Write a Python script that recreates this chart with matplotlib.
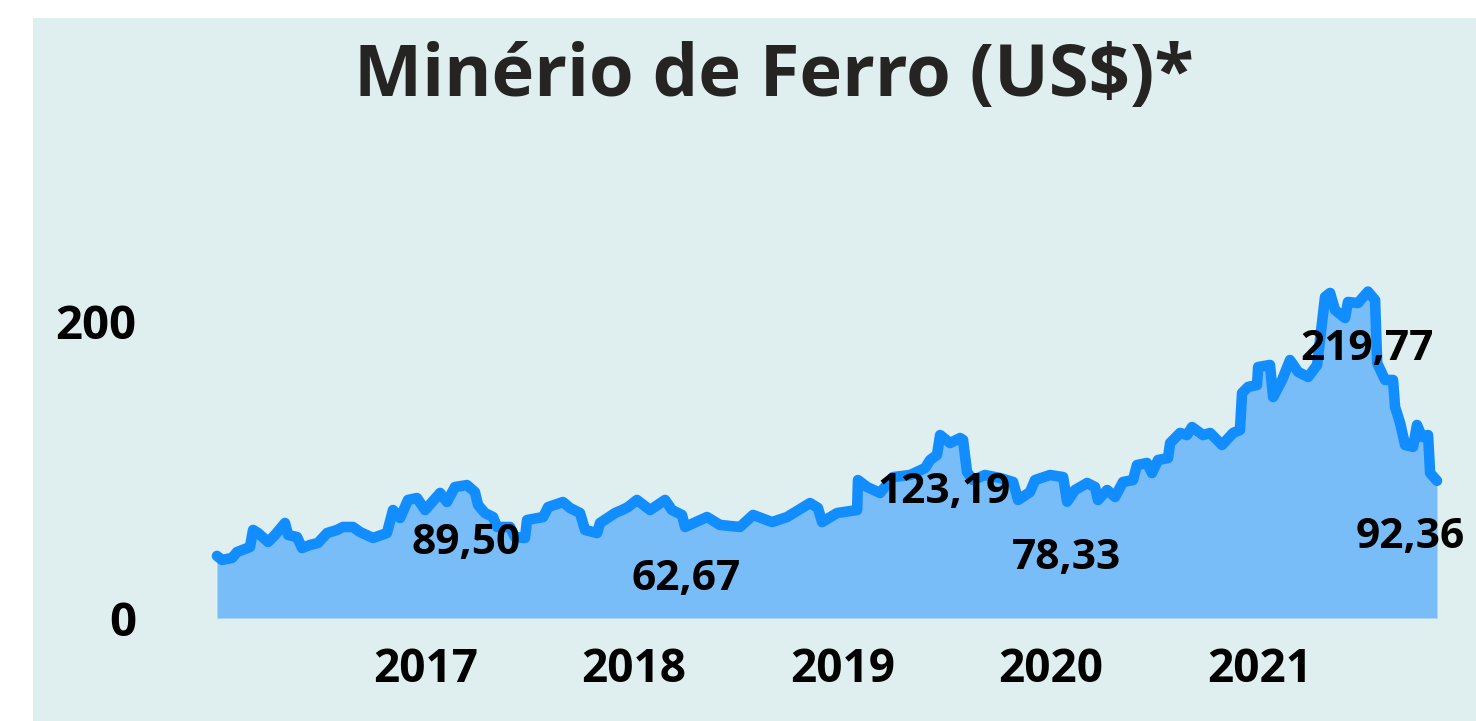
import matplotlib
matplotlib.use("Agg")
import matplotlib.pyplot as plt
from matplotlib.patches import Rectangle

# Série do minério de ferro (anos decimais, US$)
anos = [2016.000, 2016.024, 2016.072, 2016.096, 2016.158, 2016.173, 2016.197, 2016.245,
        2016.278, 2016.326, 2016.341, 2016.384, 2016.408, 2016.446, 2016.484, 2016.528,
        2016.576, 2016.604, 2016.652, 2016.686, 2016.748, 2016.815, 2016.844, 2016.878,
        2016.916, 2016.959, 2016.998, 2017.070, 2017.103, 2017.141, 2017.199, 2017.237,
        2017.252, 2017.285, 2017.324, 2017.343, 2017.405, 2017.429, 2017.477, 2017.487,
        2017.564, 2017.588, 2017.659, 2017.693, 2017.741, 2017.765, 2017.823, 2017.837,
        2017.909, 2017.942, 2017.971, 2018.014, 2018.077, 2018.149, 2018.182, 2018.230,
        2018.245, 2018.350, 2018.412, 2018.508, 2018.571, 2018.662, 2018.734, 2018.844,
        2018.882, 2018.902, 2018.974, 2019.070, 2019.074, 2019.118, 2019.180, 2019.242,
        2019.324, 2019.396, 2019.420, 2019.453, 2019.468, 2019.516, 2019.564, 2019.578,
        2019.597, 2019.626, 2019.683, 2019.755, 2019.818, 2019.842, 2019.899, 2019.923,
        2019.995, 2020.058, 2020.077, 2020.115, 2020.173, 2020.211, 2020.225, 2020.269,
        2020.307, 2020.345, 2020.393, 2020.412, 2020.460, 2020.484, 2020.513, 2020.561,
        2020.571, 2020.619, 2020.652, 2020.676, 2020.729, 2020.763, 2020.820, 2020.873,
        2020.906, 2020.916, 2020.945, 2020.988, 2020.993, 2021.050, 2021.065, 2021.108,
        2021.146, 2021.185, 2021.233, 2021.276, 2021.314, 2021.338, 2021.362, 2021.410,
        2021.424, 2021.472, 2021.520, 2021.554, 2021.564, 2021.602, 2021.640, 2021.650,
        2021.674, 2021.698, 2021.736, 2021.755, 2021.779, 2021.808, 2021.818, 2021.851]
precos = [41.8, 39.1, 40.4, 44.4, 47.8, 59.3, 57.2, 51.2,
          55.9, 64.0, 55.9, 54.5, 47.1, 49.2, 50.5, 57.2,
          59.3, 61.3, 61.3, 57.9, 53.9, 57.2, 72.7, 67.3,
          79.5, 80.8, 72.7, 84.2, 78.1, 88.2, 89.5, 84.8,
          76.1, 70.7, 68.0, 61.3, 61.3, 54.5, 53.9, 66.0,
          68.0, 74.7, 78.1, 74.1, 70.7, 59.3, 57.2, 64.0,
          70.7, 72.7, 74.7, 79.5, 72.7, 79.5, 72.7, 69.4,
          61.3, 68.0, 62.7, 61.3, 69.4, 64.6, 68.0, 77.4,
          74.1, 64.6, 70.7, 72.7, 92.9, 88.2, 84.2, 94.9,
          96.3, 101.0, 106.4, 109.8, 123.2, 117.8, 121.2, 119.9,
          98.3, 92.9, 96.3, 94.3, 91.6, 79.5, 84.8, 92.9,
          96.3, 94.9, 78.3, 86.2, 90.9, 88.2, 79.5, 86.2,
          81.5, 91.6, 92.9, 103.0, 104.4, 97.6, 106.4, 107.7,
          117.8, 124.6, 123.2, 128.6, 123.2, 124.6, 116.5, 124.6,
          126.6, 151.5, 155.6, 156.9, 169.0, 170.4, 148.8, 160.3,
          173.7, 165.7, 162.3, 170.4, 216.2, 218.9, 207.4, 202.0,
          212.8, 212.1, 219.8, 214.1, 171.7, 160.3, 160.3, 142.1,
          131.3, 116.5, 115.2, 130.0, 121.9, 123.2, 97.6, 92.4]

# Rótulos de dados (texto) e onde ficam no gráfico
rotulos = ["89,50", "62,67", "123,19", "78,33", "219,77", "92,36"]
rotulos_x = [2017.194, 2018.249, 2019.487, 2020.072, 2021.516, 2021.722]
rotulos_y = [50.5, 25.6, 84.8, 40.4, 180.5, 53.9]

anos_ticks = [2017, 2018, 2019, 2020, 2021]
y_ticks = [0, 200]

FONTE = ["Open Sans", "DejaVu Sans"]
FUNDO = "#DFEEEE"

W, H = 1476, 721
fig = plt.figure(figsize=(W / 100, H / 100), dpi=100, facecolor="white")

# painel de fundo (cartão)
fig.patches.append(Rectangle((33 / W, 0), 1 - 33 / W, 1 - 18 / H,
                             transform=fig.transFigure, facecolor=FUNDO,
                             edgecolor="none", zorder=-5))

# eixos posicionados no mesmo lugar do original
px_por_unidade = 1.485
y_top = 250
ax = fig.add_axes([217 / W, (H - 618) / H, (1437 - 217) / W, y_top * px_por_unidade / H])
ax.set_facecolor("none")
ax.set_zorder(2)

ax.fill_between(anos, precos, 0, color="#78BDF7", linewidth=0, zorder=1)
ax.plot(anos, precos, color="#118DFF", linewidth=7.6, solid_capstyle="round",
        solid_joinstyle="round", zorder=2, clip_on=False)

for txt, lx, ly in zip(rotulos, rotulos_x, rotulos_y):
    ax.text(lx, ly, txt, ha="center", va="center", fontsize=30.5, fontweight="bold",
            family=FONTE, color="black", zorder=3)

ax.set_xlim(anos[0], anos[-1])
ax.set_ylim(0, y_top)
ax.set_xticks(anos_ticks)
ax.set_xticklabels([str(a) for a in anos_ticks])
ax.set_yticks(y_ticks)
ax.set_yticklabels([str(v) for v in y_ticks])
ax.tick_params(axis="x", length=0, pad=20)
ax.tick_params(axis="y", length=0, pad=58)
for lab in ax.get_xticklabels():
    lab.set_fontsize(33)
for lab in ax.get_yticklabels():
    lab.set_fontsize(34)
for lab in ax.get_xticklabels() + ax.get_yticklabels():
    lab.set_fontweight("bold")
    lab.set_family(FONTE)
for s in ax.spines.values():
    s.set_visible(False)

fig.text(774 / W, 1 - 77 / H, "Minério de Ferro (US$)*", ha="center", va="center",
         fontsize=52, fontweight="bold", family=FONTE, color="#252423")

fig.savefig("out.png", dpi=100, facecolor="white")
